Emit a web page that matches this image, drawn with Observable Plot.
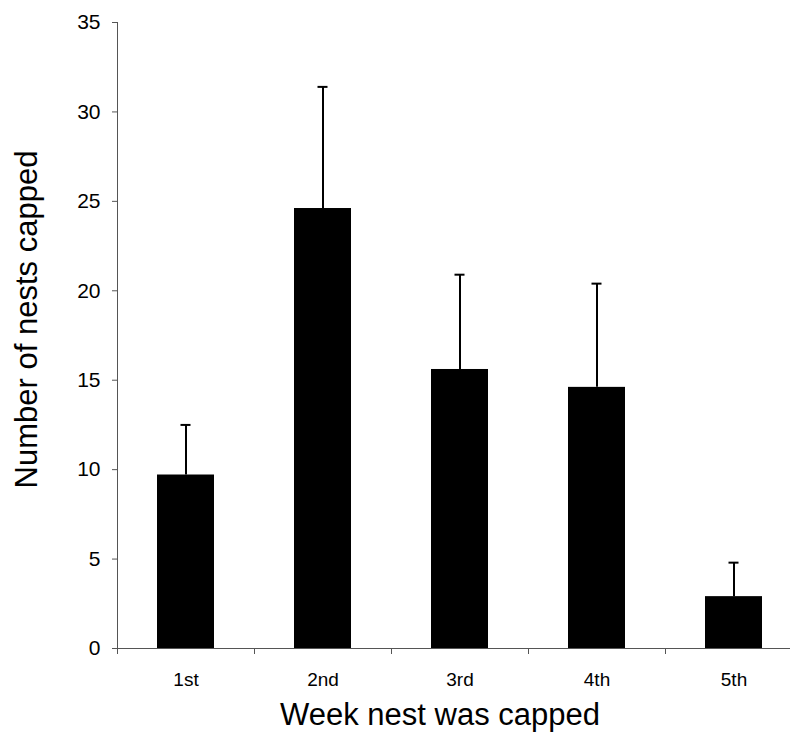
<!DOCTYPE html>
<html>
<head>
<meta charset="utf-8">
<script src="https://cdn.jsdelivr.net/npm/d3@7"></script>
<script src="https://cdn.jsdelivr.net/npm/@observablehq/plot@0.6"></script>
<style>
  html, body { margin: 0; padding: 0; background: #fff; }
  svg { font-family: "Liberation Sans", Arial, sans-serif; }
</style>
</head>
<body>
<div id="chart"></div>
<script>
const weeks = ["1st", "2nd", "3rd", "4th", "5th"];
const means = [9.7, 24.6, 15.6, 14.6, 2.9];
const upperErr = [12.5, 31.4, 20.9, 20.4, 4.8];
const yTicks = [0, 5, 10, 15, 20, 25, 30, 35];
const xTitle = "Week nest was capped";
const yTitle = "Number of nests capped";

const data = weeks.map((w, i) => ({week: w, mean: means[i], upper: upperErr[i]}));
const half = 68.5;

const chart = Plot.plot({
  width: 790,
  height: 743,
  marginTop: 22,
  marginBottom: 95,
  marginLeft: 117,
  marginRight: 0,
  style: {fontFamily: "'Liberation Sans', Arial, sans-serif", background: "#fff", color: "#000"},
  x: {domain: weeks, range: [117, 802], paddingInner: 0.584, paddingOuter: 0.292},
  y: {domain: [0, 35]},
  marks: [
    Plot.barY(data, {x: "week", y: "mean", fill: "#000"}),
    Plot.ruleX(data, {x: "week", y1: "mean", y2: "upper", stroke: "#000", strokeWidth: 2}),
    Plot.tickY(data, {x: "week", y: "upper", stroke: "#000", strokeWidth: 2, insetLeft: 23.5, insetRight: 23.5}),
    Plot.ruleY([0], {stroke: "#555", strokeWidth: 1}),
    Plot.ruleX([weeks[0]], {y1: 0, y2: 35, dx: -half, stroke: "#555", strokeWidth: 1}),
    Plot.axisY({ticks: yTicks, tickSize: 5, tickPadding: 12, fontSize: 21, stroke: "#555", label: null}),
    Plot.axisX({ticks: weeks, tickSize: 6, dx: -half, tickFormat: () => "", stroke: "#555", label: null}),
    Plot.axisX({ticks: weeks, tickSize: 0, tickPadding: 24, fontSize: 19, label: null}),
    Plot.text([xTitle], {frameAnchor: "bottom", textAnchor: "middle", dx: -14, dy: 76, fontSize: 31, fill: "#000"}),
    Plot.text([yTitle], {frameAnchor: "left", textAnchor: "middle", rotate: -90, dx: -90, dy: -16, fontSize: 31, fill: "#000"})
  ]
});
document.getElementById("chart").appendChild(chart);
</script>
</body>
</html>
